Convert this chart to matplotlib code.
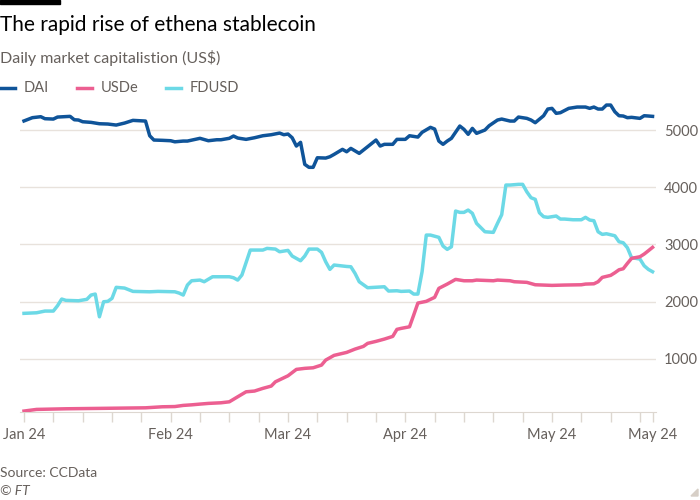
import pandas as pd
import matplotlib
matplotlib.use("Agg")
import matplotlib.pyplot as plt
from matplotlib.patches import Polygon

plt.rcParams["font.family"] = ["Lato", "DejaVu Sans"]

# ---- data, day offsets from 1 Jan 2024 ----
START = pd.Timestamp("2024-01-01")

dai_day = [0, 2, 4, 5, 7, 8, 11, 12, 13, 14, 16, 18, 20, 22, 24, 26, 29, 30, 31, 33,
           35, 36, 38, 39, 42, 44, 46, 47, 49, 50, 51, 53, 55, 57, 59, 61, 62, 63, 64, 65,
           66, 67, 68, 69, 70, 72, 73, 74, 76, 77, 78, 80, 82, 84, 85, 86, 88, 89, 91, 92,
           94, 95, 97, 98, 99, 100, 101, 102, 104, 105, 106, 107, 108, 110, 111, 113, 114, 116, 117, 118,
           120, 121, 122, 124, 125, 126, 127, 128, 130, 132, 134, 135, 136, 137, 138, 139, 140, 141, 142, 143,
           144, 145, 147, 148, 149, 150]
dai_val = [5160, 5217, 5234, 5199, 5193, 5228, 5240, 5181, 5176, 5146, 5135, 5111, 5106, 5088, 5123, 5170, 5158, 4901, 4826, 4821,
           4814, 4795, 4808, 4808, 4856, 4814, 4831, 4831, 4856, 4896, 4861, 4838, 4866, 4901, 4919, 4948, 4919, 4931, 4866, 4721,
           4786, 4401, 4349, 4349, 4516, 4511, 4534, 4575, 4663, 4621, 4680, 4593, 4709, 4826, 4721, 4751, 4751, 4838, 4838, 4901,
           4878, 4961, 5048, 5018, 4808, 4751, 4808, 4856, 5071, 5013, 4926, 5030, 4943, 5001, 5076, 5176, 5193, 5158, 5158, 5228,
           5205, 5176, 5129, 5251, 5368, 5380, 5293, 5304, 5380, 5403, 5403, 5380, 5403, 5368, 5368, 5438, 5438, 5321, 5251, 5246,
           5217, 5223, 5205, 5251, 5246, 5240]

usde_day = [0, 3, 10, 18, 29, 33, 36, 38, 40, 42, 44, 47, 49, 51, 53, 55, 57, 59, 60, 63,
            65, 67, 69, 71, 72, 74, 77, 79, 81, 82, 84, 86, 88, 89, 90, 92, 93, 94, 96, 98,
            99, 101, 103, 105, 107, 108, 112, 113, 116, 117, 120, 122, 126, 129, 133, 134, 136, 137, 138, 140,
            141, 142, 143, 144, 145, 147, 148, 149, 150]
usde_val = [86, 115, 126, 133, 143, 161, 165, 185, 195, 208, 220, 231, 248, 336, 423, 436, 483, 523, 598, 703,
            815, 833, 843, 890, 978, 1060, 1112, 1170, 1217, 1270, 1305, 1345, 1392, 1515, 1532, 1560, 1765, 1975, 2005, 2075,
            2232, 2307, 2389, 2365, 2365, 2377, 2365, 2377, 2365, 2348, 2337, 2295, 2284, 2290, 2295, 2307, 2312, 2348, 2424, 2459,
            2505, 2557, 2575, 2669, 2757, 2785, 2832, 2890, 2949]

fdusd_day = [0, 3, 5, 7, 8, 9, 10, 13, 15, 16, 17, 18, 19, 20, 21, 22, 24, 26, 30, 32,
             36, 37, 38, 39, 40, 42, 43, 45, 46, 49, 50, 51, 52, 54, 55, 57, 58, 60, 61, 63,
             64, 66, 67, 68, 70, 71, 72, 73, 74, 77, 78, 79, 80, 82, 86, 87, 89, 90, 92, 93,
             94, 95, 96, 97, 99, 100, 101, 102, 103, 104, 105, 106, 107, 108, 110, 112, 113, 114, 115, 116,
             118, 119, 120, 121, 122, 123, 124, 125, 127, 128, 129, 131, 133, 134, 135, 136, 137, 138, 139, 141,
             142, 143, 144, 145, 146, 147, 148, 149, 150]
fdusd_val = [1795, 1805, 1835, 1835, 1928, 2045, 2022, 2015, 2040, 2115, 2132, 1735, 1998, 2005, 2057, 2250, 2237, 2179, 2172, 2179,
             2172, 2150, 2115, 2290, 2365, 2377, 2348, 2435, 2435, 2435, 2418, 2377, 2465, 2902, 2902, 2902, 2931, 2919, 2872, 2896,
             2797, 2715, 2797, 2919, 2919, 2862, 2697, 2564, 2640, 2615, 2610, 2494, 2348, 2243, 2260, 2185, 2190, 2179, 2185, 2132,
             2132, 2523, 3164, 3164, 3124, 2972, 2914, 2960, 3584, 3561, 3561, 3601, 3544, 3369, 3222, 3211, 3369, 3520, 4039, 4039,
             4051, 4051, 3920, 3817, 3789, 3555, 3485, 3474, 3497, 3444, 3444, 3432, 3432, 3474, 3427, 3415, 3222, 3176, 3187, 3152,
             3047, 3030, 2942, 2767, 2757, 2744, 2627, 2564, 2523]

tick_label_days = [0, 35, 63, 91, 126, 150]
tick_labels = ["Jan 24", "Feb 24", "Mar 24", "Apr 24", "May 24", "May 24"]
y_ticks = [1000, 2000, 3000, 4000, 5000]


def to_dates(days):
    return START + pd.to_timedelta(days, unit="D")


GRID = "#e8e2dc"
TXT = "#66605c"
C_DAI, C_USDE, C_FDUSD = "#0f5499", "#ec5f91", "#6cd9e6"

fig = plt.figure(figsize=(7, 5), dpi=100, facecolor="white")
ax = fig.add_axes([0.0286, 0.1766, 0.9084, 0.6204])

ax.plot(to_dates(fdusd_day), fdusd_val, color=C_FDUSD, lw=2.5, solid_joinstyle="round", zorder=3)
ax.plot(to_dates(usde_day), usde_val, color=C_USDE, lw=2.5, solid_joinstyle="round", zorder=4)
ax.plot(to_dates(dai_day), dai_val, color=C_DAI, lw=2.5, solid_joinstyle="round", zorder=5)

ax.set_ylim(75, 5500)
ax.set_xlim(START - pd.Timedelta(days=0.95), START + pd.Timedelta(days=150.8))

ax.yaxis.tick_right()
ax.set_yticks(y_ticks)
ax.set_yticklabels([str(v) for v in y_ticks])
ax.tick_params(axis="y", length=0, pad=6, labelsize=10.5, labelcolor=TXT)
ax.grid(axis="y", color=GRID, lw=1)

week_ticks = list(pd.date_range(START, periods=22, freq="7D")) + [to_dates([150])[0]]
ax.set_xticks(week_ticks, minor=True)
ax.set_xticks(to_dates(tick_label_days))
ax.set_xticklabels(tick_labels)
ax.tick_params(axis="x", which="both", length=7, width=1, color="#ddd7d0", labelsize=10.5,
               labelcolor=TXT, pad=5)

for s in ["top", "right", "left"]:
    ax.spines[s].set_visible(False)
ax.spines["bottom"].set_color("#ddd7d0")

# header
fig.patches.append(plt.Rectangle((0, 496 / 500), 60 / 700, 4 / 500, transform=fig.transFigure,
                                 color="black", zorder=10))
fig.text(0.0, 1 - 25 / 500, "The rapid rise of ethena stablecoin", fontsize=15, color="black",
         va="center", ha="left")
fig.text(0.0, 1 - 58 / 500, "Daily market capitalistion (US$)", fontsize=11.5, color=TXT,
         va="center", ha="left")

legend_items = [("DAI", C_DAI, 0), ("USDe", C_USDE, 77), ("FDUSD", C_FDUSD, 166)]
for name, col, x0 in legend_items:
    fig.lines.append(plt.Line2D([x0 / 700, (x0 + 15) / 700], [1 - 88 / 500] * 2,
                                transform=fig.transFigure, color=col, lw=2.5))
    fig.text((x0 + 24) / 700, 1 - 88 / 500, name, fontsize=10.5, color=TXT, va="center", ha="left")

fig.text(0.0, 1 - 473 / 500, "Source: CCData", fontsize=10, color=TXT, va="center", ha="left")
fig.text(0.0, 1 - 491 / 500, "© FT", fontsize=10, color=TXT, va="center", ha="left", style="italic")
fig.patches.append(Polygon([(698 / 700, 1 - 496 / 500), (698 / 700, 1 - 489 / 500), (691 / 700, 1 - 496 / 500)],
                           closed=True, transform=fig.transFigure, color="#d7cfc7"))

fig.savefig("out.png", dpi=100, facecolor="white")
